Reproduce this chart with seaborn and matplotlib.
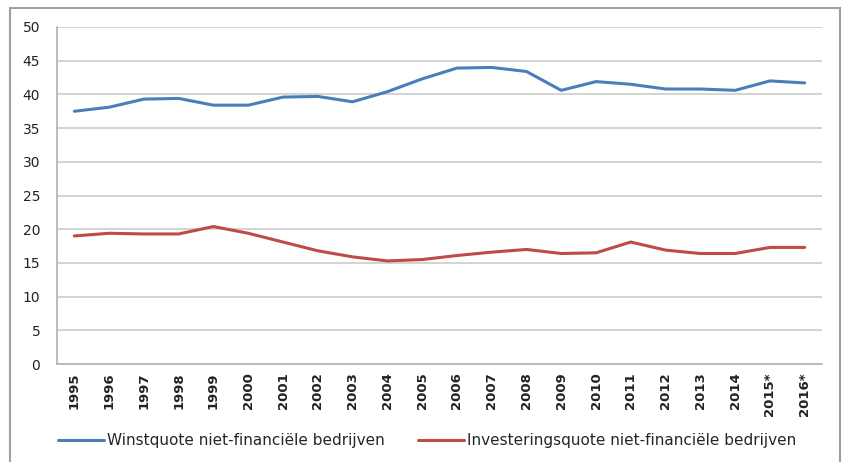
import matplotlib.pyplot as plt
import pandas as pd
import seaborn as sns
from matplotlib.patches import Rectangle

years = ['1995', '1996', '1997', '1998', '1999', '2000', '2001', '2002', '2003',
         '2004', '2005', '2006', '2007', '2008', '2009', '2010', '2011', '2012',
         '2013', '2014', '2015*', '2016*']
winstquote = [37.5, 38.1, 39.3, 39.4, 38.4, 38.4, 39.6, 39.7, 38.9, 40.4, 42.3,
              43.9, 44.0, 43.4, 40.6, 41.9, 41.5, 40.8, 40.8, 40.6, 42.0, 41.7]
investeringsquote = [19.0, 19.4, 19.3, 19.3, 20.4, 19.4, 18.1, 16.8, 15.9, 15.3, 15.5,
                     16.1, 16.6, 17.0, 16.4, 16.5, 18.1, 16.9, 16.4, 16.4, 17.3, 17.3]
series_names = ['Winstquote niet-financiële bedrijven',
                'Investeringsquote niet-financiële bedrijven']
colors = ['#4a7ebb', '#be4b48']

df = pd.DataFrame({
    'jaar': years * 2,
    'pos': list(range(len(years))) * 2,
    'waarde': winstquote + investeringsquote,
    'reeks': [series_names[0]] * len(years) + [series_names[1]] * len(years),
})

sns.set_style('white')
plt.rcParams['font.family'] = ['DejaVu Sans']

fig = plt.figure(figsize=(8.44, 4.62), dpi=100)
ax = fig.add_axes([0.0675, 0.212, 0.9065, 0.7296])

sns.lineplot(data=df, x='pos', y='waarde', hue='reeks', palette=colors,
             linewidth=2.2, ax=ax)

ax.set_xlim(-0.5, len(years) - 0.5)
ax.set_ylim(0, 50)
ax.set_yticks(range(0, 51, 5))
ax.set_xticks(range(len(years)))
ax.set_xticklabels(years, rotation=90, fontsize=9.5, fontweight='bold', color='#222222')
ax.tick_params(axis='y', labelsize=10, colors='#222222', length=0, pad=12)
ax.tick_params(axis='x', length=0, pad=6)
ax.set_xlabel('')
ax.set_ylabel('')
ax.grid(axis='y', color='#cccccc', linewidth=1.2)
ax.set_axisbelow(True)
for side in ['top', 'right']:
    ax.spines[side].set_visible(False)
for side in ['left', 'bottom']:
    ax.spines[side].set_color('#b0b0b0')
    ax.spines[side].set_linewidth(1.2)

ax.legend(loc='center', bbox_to_anchor=(0.484, -0.228), ncol=2, frameon=False,
          fontsize=11, handlelength=3.0, handletextpad=0.2, columnspacing=2.2)

fig.patches.append(Rectangle((0.012, -0.02), 0.983, 1.003, transform=fig.transFigure,
                             fill=False, edgecolor='#a0a0a0', linewidth=1.5))

fig.savefig('out.png', dpi=100)
plt.close(fig)
